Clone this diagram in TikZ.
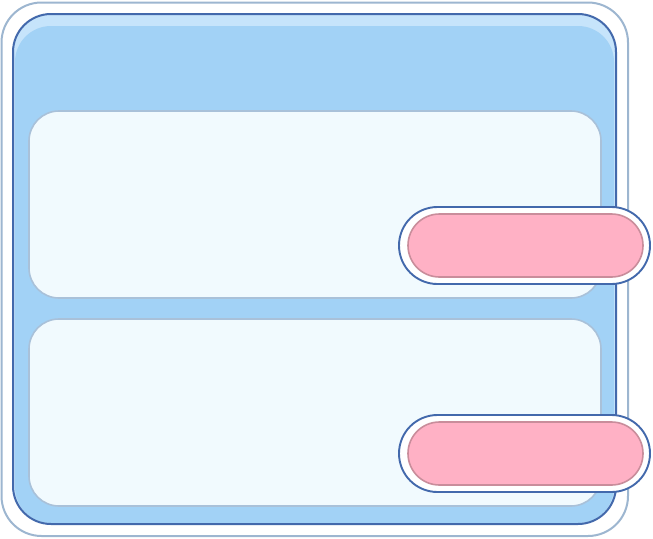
\documentclass[tikz,border=0pt]{standalone}
\definecolor{frameline}{HTML}{9DB6D0}
\definecolor{mainline}{HTML}{4369AC}
\definecolor{mainfill}{HTML}{A2D2F6}
\definecolor{mainhi}{HTML}{C6E4FB}
\definecolor{panelfill}{HTML}{F1FAFE}
\definecolor{panelline}{HTML}{A9C1D9}
\definecolor{pillfill}{HTML}{FFB1C5}
\definecolor{pillline}{HTML}{C98D9B}
\tikzset{
  framebox/.style={draw=frameline, line width=2pt, fill=white, rounded corners=40pt},
  mainbox/.style={draw=mainline, line width=2pt, rounded corners=38pt},
  panelbox/.style={draw=panelline, line width=1.6pt, fill=panelfill, rounded corners=30pt},
  pillouter/.style={draw=mainline, line width=1.9pt, fill=white, rounded corners=38.5pt},
  pillinner/.style={draw=pillline, line width=1.6pt, fill=pillfill, rounded corners=31.5pt},
}
\begin{document}
\begin{tikzpicture}[x=1pt,y=-1pt]
\useasboundingbox (0,0) rectangle (653,538);
% outer frame
\draw[framebox] (1.5,2.5) rectangle (628,536);
% main blue panel
\fill[mainhi, rounded corners=38pt] (13,14) rectangle (616,524);
\fill[mainfill, rounded corners=36pt] (15,26) rectangle (614,523);
\draw[mainbox] (13,14) rectangle (616,524);
% inner panels
\draw[panelbox] (29,111) rectangle (601,298);
\draw[panelbox] (29,319) rectangle (601,506);
% pills
\draw[pillouter] (399,207) rectangle (650,284);
\draw[pillinner] (408,214) rectangle (643,277);
\draw[pillouter] (399,415) rectangle (650,492);
\draw[pillinner] (408,422) rectangle (643,485);
\end{tikzpicture}
\end{document}
